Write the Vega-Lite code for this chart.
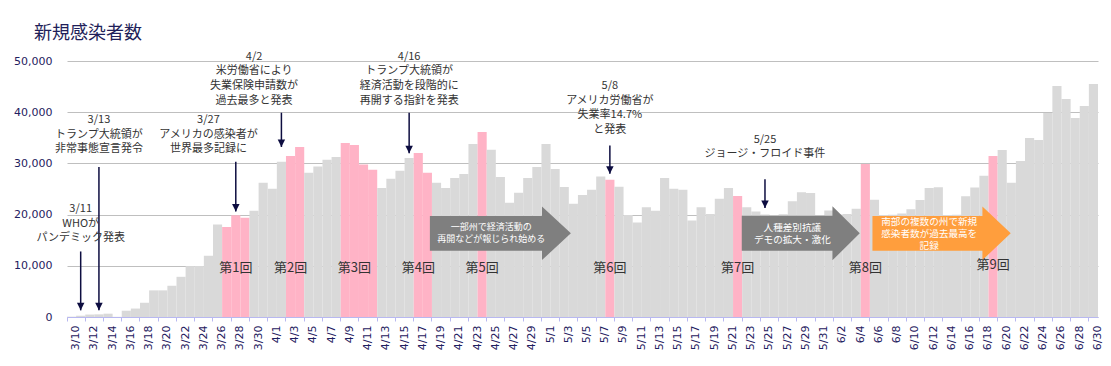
{
  "$schema": "https://vega.github.io/schema/vega-lite/v6.json",
  "width": 1031,
  "height": 256,
  "autosize": {"type": "none"},
  "padding": {"left": 67, "top": 61, "right": 13, "bottom": 49},
  "background": "white",
  "title": {
    "text": "新規感染者数",
    "anchor": "start",
    "frame": "group",
    "dx": -33,
    "dy": 10,
    "offset": 0,
    "baseline": "bottom",
    "font": "Noto Sans CJK JP",
    "fontSize": 18,
    "fontWeight": "normal",
    "color": "#1f1f5a"
  },
  "config": {"view": {"stroke": null}, "font": "Noto Sans CJK JP"},
  "datasets": {
    "bars": [
      {"d": "3/10", "v": 60}, {"d": "3/11", "v": 250}, {"d": "3/12", "v": 480}, {"d": "3/13", "v": 520},
      {"d": "3/14", "v": 650}, {"d": "3/15", "v": 30}, {"d": "3/16", "v": 1230}, {"d": "3/17", "v": 1650},
      {"d": "3/18", "v": 2780}, {"d": "3/19", "v": 5200}, {"d": "3/20", "v": 5200}, {"d": "3/21", "v": 6100},
      {"d": "3/22", "v": 7850}, {"d": "3/23", "v": 9950}, {"d": "3/24", "v": 9950}, {"d": "3/25", "v": 11950},
      {"d": "3/26", "v": 18050}, {"d": "3/27", "v": 17600}, {"d": "3/28", "v": 19850}, {"d": "3/29", "v": 19400},
      {"d": "3/30", "v": 20750}, {"d": "3/31", "v": 26200}, {"d": "4/1", "v": 25050}, {"d": "4/2", "v": 30300},
      {"d": "4/3", "v": 31450}, {"d": "4/4", "v": 33200}, {"d": "4/5", "v": 28150}, {"d": "4/6", "v": 29400},
      {"d": "4/7", "v": 30700}, {"d": "4/8", "v": 31250}, {"d": "4/9", "v": 34000}, {"d": "4/10", "v": 33600},
      {"d": "4/11", "v": 29800}, {"d": "4/12", "v": 28750}, {"d": "4/13", "v": 25200}, {"d": "4/14", "v": 27000},
      {"d": "4/15", "v": 28550}, {"d": "4/16", "v": 31050}, {"d": "4/17", "v": 32050}, {"d": "4/18", "v": 28150},
      {"d": "4/19", "v": 26200}, {"d": "4/20", "v": 25200}, {"d": "4/21", "v": 27150}, {"d": "4/22", "v": 27950},
      {"d": "4/23", "v": 33800}, {"d": "4/24", "v": 36150}, {"d": "4/25", "v": 32650}, {"d": "4/26", "v": 27350},
      {"d": "4/27", "v": 22300}, {"d": "4/28", "v": 24250}, {"d": "4/29", "v": 27150}, {"d": "4/30", "v": 29300},
      {"d": "5/1", "v": 33800}, {"d": "5/2", "v": 28900}, {"d": "5/3", "v": 25400}, {"d": "5/4", "v": 22100},
      {"d": "5/5", "v": 23850}, {"d": "5/6", "v": 24850}, {"d": "5/7", "v": 27450}, {"d": "5/8", "v": 26800},
      {"d": "5/9", "v": 25450}, {"d": "5/10", "v": 19900}, {"d": "5/11", "v": 18450}, {"d": "5/12", "v": 21450},
      {"d": "5/13", "v": 20750}, {"d": "5/14", "v": 27150}, {"d": "5/15", "v": 25050}, {"d": "5/16", "v": 24850},
      {"d": "5/17", "v": 18850}, {"d": "5/18", "v": 21450}, {"d": "5/19", "v": 20100}, {"d": "5/20", "v": 23100},
      {"d": "5/21", "v": 25200}, {"d": "5/22", "v": 23650}, {"d": "5/23", "v": 21450}, {"d": "5/24", "v": 20600},
      {"d": "5/25", "v": 20000}, {"d": "5/26", "v": 19900}, {"d": "5/27", "v": 20050}, {"d": "5/28", "v": 22600},
      {"d": "5/29", "v": 24350}, {"d": "5/30", "v": 24200}, {"d": "5/31", "v": 19900}, {"d": "6/1", "v": 20800},
      {"d": "6/2", "v": 20000}, {"d": "6/3", "v": 20100}, {"d": "6/4", "v": 21130}, {"d": "6/5", "v": 29900},
      {"d": "6/6", "v": 22880}, {"d": "6/7", "v": 19900}, {"d": "6/8", "v": 19950}, {"d": "6/9", "v": 20200},
      {"d": "6/10", "v": 21050}, {"d": "6/11", "v": 22850}, {"d": "6/12", "v": 25200}, {"d": "6/13", "v": 25350},
      {"d": "6/14", "v": 19900}, {"d": "6/15", "v": 19950}, {"d": "6/16", "v": 23600}, {"d": "6/17", "v": 25300},
      {"d": "6/18", "v": 27600}, {"d": "6/19", "v": 31450}, {"d": "6/20", "v": 32630}, {"d": "6/21", "v": 26200},
      {"d": "6/22", "v": 30480}, {"d": "6/23", "v": 34970}, {"d": "6/24", "v": 34580}, {"d": "6/25", "v": 39850},
      {"d": "6/26", "v": 45100}, {"d": "6/27", "v": 42580}, {"d": "6/28", "v": 38870}, {"d": "6/29", "v": 41200},
      {"d": "6/30", "v": 45500}
    ],
    "arrows": [
      {"d": "3/11", "y1": 12800, "y2": 1300},
      {"d": "3/13", "y1": 29300, "y2": 1300},
      {"d": "3/28", "y1": 30300, "y2": 20600},
      {"d": "4/2", "y1": 39900, "y2": 33200},
      {"d": "4/16", "y1": 39900, "y2": 32000},
      {"d": "5/8", "y1": 33500, "y2": 28000},
      {"d": "5/25", "y1": 26900, "y2": 21300}
    ],
    "notes": [
      {"d": "3/11", "y": 21130, "t": "3/11\nWHOが\nパンデミック発表"},
      {"d": "3/13", "y": 38500, "t": "3/13\nトランプ大統領が\n非常事態宣言発令"},
      {"d": "3/25", "y": 38500, "t": "3/27\nアメリカの感染者が\n世界最多記録に"},
      {"d": "3/30", "y": 50840, "t": "4/2\n米労働省により\n失業保険申請数が\n過去最多と発表"},
      {"d": "4/16", "y": 50840, "t": "4/16\nトランプ大統領が\n経済活動を段階的に\n再開する指針を発表"},
      {"d": "5/8", "y": 45130, "t": "5/8\nアメリカ労働省が\n失業率14.7%\nと発表"},
      {"d": "5/25", "y": 34620, "t": "5/25\nジョージ・フロイド事件"}
    ],
    "rounds": [
      {"d": "3/28", "y": 9560, "t": "第1回"},
      {"d": "4/3", "y": 9560, "t": "第2回"},
      {"d": "4/10", "y": 9560, "t": "第3回"},
      {"d": "4/17", "y": 9560, "t": "第4回"},
      {"d": "4/24", "y": 9560, "t": "第5回"},
      {"d": "5/8", "y": 9560, "t": "第6回"},
      {"d": "5/22", "y": 9560, "t": "第7回"},
      {"d": "6/5", "y": 9560, "t": "第8回"},
      {"d": "6/19", "y": 10070, "t": "第9回"}
    ]
  },
  "encoding": {
    "x": {
      "field": "d",
      "type": "ordinal",
      "scale": {
        "paddingInner": 0,
        "paddingOuter": 0,
        "domain": ["3/10","3/11","3/12","3/13","3/14","3/15","3/16","3/17","3/18","3/19","3/20","3/21","3/22","3/23","3/24","3/25","3/26","3/27","3/28","3/29","3/30","3/31",
          "4/1","4/2","4/3","4/4","4/5","4/6","4/7","4/8","4/9","4/10","4/11","4/12","4/13","4/14","4/15","4/16","4/17","4/18","4/19","4/20","4/21","4/22","4/23","4/24","4/25","4/26","4/27","4/28","4/29","4/30",
          "5/1","5/2","5/3","5/4","5/5","5/6","5/7","5/8","5/9","5/10","5/11","5/12","5/13","5/14","5/15","5/16","5/17","5/18","5/19","5/20","5/21","5/22","5/23","5/24","5/25","5/26","5/27","5/28","5/29","5/30","5/31",
          "6/1","6/2","6/3","6/4","6/5","6/6","6/7","6/8","6/9","6/10","6/11","6/12","6/13","6/14","6/15","6/16","6/17","6/18","6/19","6/20","6/21","6/22","6/23","6/24","6/25","6/26","6/27","6/28","6/29","6/30"]
      },
      "axis": {
        "title": null,
        "values": ["3/10","3/12","3/14","3/16","3/18","3/20","3/22","3/24","3/26","3/28","3/30",
          "4/1","4/3","4/5","4/7","4/9","4/11","4/13","4/15","4/17","4/19","4/21","4/23","4/25","4/27","4/29",
          "5/1","5/3","5/5","5/7","5/9","5/11","5/13","5/15","5/17","5/19","5/21","5/23","5/25","5/27","5/29","5/31",
          "6/2","6/4","6/6","6/8","6/10","6/12","6/14","6/16","6/18","6/20","6/22","6/24","6/26","6/28","6/30"],
        "labelAngle": 270,
        "labelAlign": "right",
        "labelBaseline": "middle",
        "bandPosition": 0,
        "labelOffset": 4.5,
        "labelOverlap": false,
        "labelBound": false,
        "tickColor": "#b8b8f0",
        "tickSize": 4,
        "domainColor": "#b8b8f0",
        "labelPadding": 4,
        "labelFont": "DejaVu Sans",
        "labelFontSize": 11,
        "labelColor": "#1f2060",
        "grid": false
      }
    }
  },
  "layer": [
    {
      "data": {"name": "bars"},
      "mark": {"type": "bar", "strokeWidth": 0},
      "encoding": {
        "y": {
          "field": "v",
          "type": "quantitative",
          "scale": {"domain": [0, 50000], "nice": false},
          "axis": {
            "title": null,
            "values": [0, 10000, 20000, 30000, 40000, 50000],
            "format": ",d",
            "grid": true,
            "gridColor": "#bfbfbf",
            "gridWidth": 1,
            "domain": false,
            "ticks": false,
            "labelPadding": 15,
            "labelFont": "DejaVu Sans",
            "labelFontSize": 11,
            "labelColor": "#1f2060"
          }
        },
        "color": {
          "condition": {
            "test": "indexof(['3/27','3/28','3/29','4/3','4/4','4/9','4/10','4/11','4/12','4/17','4/18','4/24','5/8','5/22','6/5','6/19'], datum.d) >= 0",
            "value": "#ffb3c6"
          },
          "value": "#d9d9d9"
        }
      }
    },
    {
      "data": {"values": [{"d": "4/26", "y": 16350}]},
      "mark": {"type": "point", "shape": "M-1,-0.247L0.59,-0.247L0.59,-0.38L1,0L0.59,0.38L0.59,0.247L-1,0.247Z", "size": 19881, "filled": true, "opacity": 1, "color": "#7f7f7f", "strokeWidth": 0},
      "encoding": {"y": {"field": "y", "type": "quantitative", "title": null}}
    },
    {
      "data": {"values": [{"d": "5/29", "y": 16350}]},
      "mark": {"type": "point", "shape": "M-1.012,-0.297L0.525,-0.297L0.525,-0.458L0.988,0L0.525,0.458L0.525,0.297L-1.012,0.297Z", "size": 13924, "filled": true, "opacity": 1, "color": "#7f7f7f", "strokeWidth": 0},
      "encoding": {"y": {"field": "y", "type": "quantitative", "title": null}}
    },
    {
      "data": {"values": [{"d": "6/13", "y": 16350}]},
      "mark": {"type": "point", "shape": "M-0.952,-0.251L0.637,-0.251L0.637,-0.387L1.046,0L0.637,0.387L0.637,0.251L-0.952,0.251Z", "size": 19155, "filled": true, "opacity": 1, "color": "#ff9e3d", "strokeWidth": 0},
      "encoding": {"y": {"field": "y", "type": "quantitative", "title": null}}
    },
    {
      "data": {"values": [{"d": "4/25", "y": 17620, "t": "一部州で経済活動の\n再開などが報じられ始める"}]},
      "mark": {"type": "text", "lineBreak": "\n", "fontSize": 9, "lineHeight": 12.5, "color": "white", "align": "center", "baseline": "middle", "font": "Noto Sans CJK JP"},
      "encoding": {"y": {"field": "y", "type": "quantitative", "title": null}, "text": {"field": "t"}}
    },
    {
      "data": {"values": [{"d": "5/28", "y": 17480, "t": "人種差別抗議\nデモの拡大・激化"}, {"d": "6/12", "y": 18650, "t": "南部の複数の州で新規\n感染者数が過去最高を\n記録"}]},
      "mark": {"type": "text", "lineBreak": "\n", "fontSize": 9.6, "lineHeight": 12, "color": "white", "align": "center", "baseline": "middle", "font": "Noto Sans CJK JP"},
      "encoding": {"y": {"field": "y", "type": "quantitative", "title": null}, "text": {"field": "t"}}
    },
    {
      "data": {"name": "arrows"},
      "mark": {"type": "rule", "color": "#0d0d40", "strokeWidth": 1.5},
      "encoding": {
        "y": {"field": "y1", "type": "quantitative", "title": null},
        "y2": {"field": "y2"}
      }
    },
    {
      "data": {"name": "arrows"},
      "mark": {"type": "point", "shape": "M0,0L-1,-2L1,-2Z", "size": 56, "filled": true, "opacity": 1, "color": "#0d0d40", "strokeWidth": 0},
      "encoding": {"y": {"field": "y2", "type": "quantitative", "title": null}}
    },
    {
      "data": {"name": "notes"},
      "mark": {"type": "text", "lineBreak": "\n", "fontSize": 11, "lineHeight": 14.7, "color": "#333333", "align": "center", "baseline": "middle", "font": "Noto Sans CJK JP"},
      "encoding": {"y": {"field": "y", "type": "quantitative", "title": null}, "text": {"field": "t"}}
    },
    {
      "data": {"name": "rounds"},
      "mark": {"type": "text", "fontSize": 13, "color": "#333333", "align": "center", "baseline": "middle", "font": "Noto Sans CJK JP"},
      "encoding": {"y": {"field": "y", "type": "quantitative", "title": null}, "text": {"field": "t"}}
    }
  ]
}
